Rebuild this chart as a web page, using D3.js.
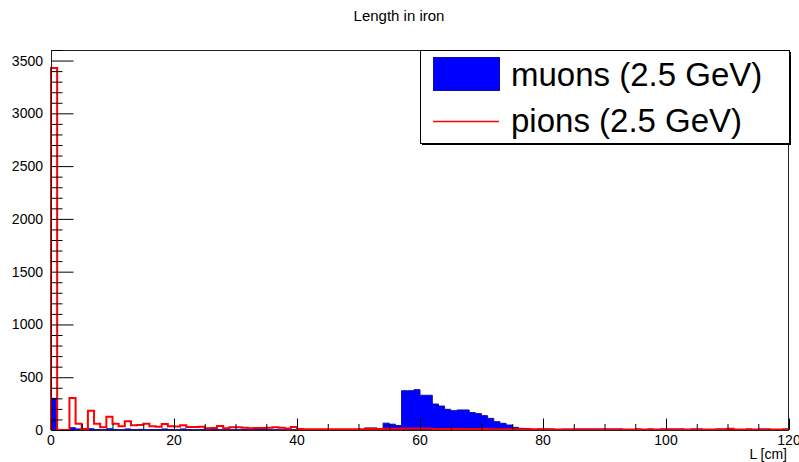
<!DOCTYPE html>
<html>
<head>
<meta charset="utf-8">
<script src="https://cdn.jsdelivr.net/npm/d3@7/dist/d3.min.js"></script>
<style>
  html, body { margin: 0; padding: 0; background: #fff; }
  svg { display: block; font-family: "Liberation Sans", Arial, Helvetica, sans-serif; }
</style>
</head>
<body>
<svg id="chart" width="799" height="462"></svg>
<script>
// ---- Data (1 cm bins, 0..120 cm) ----
const binEdges = d3.range(0, 121, 1);
const muons = [
  300, 5, 0, 22, 10, 5, 12, 5, 3, 12,
  5, 3, 10, 4, 6, 3, 5, 4, 10, 4,
  3, 10, 4, 3, 5, 3, 4, 3, 5, 3,
  3, 4, 3, 5, 5, 3, 3, 2, 3, 3,
  2, 3, 2, 3, 2, 3, 2, 2, 3, 2,
  3, 20, 20, 8, 65, 55, 42, 372, 372, 382,
  329, 329, 246, 227, 196, 183, 190, 190, 165, 155,
  136, 110, 79, 63, 47, 25, 16, 14, 3, 10,
  10, 10, 0, 8, 8, 10, 10, 10, 10, 10,
  10, 10, 10, 0, 0, 10, 0, 10, 0, 10,
  10, 10, 10, 0, 10, 10, 0, 0, 10, 10,
  10, 0, 0, 10, 0, 10, 10, 0, 0, 10
];
const pions = [
  3430, 0, 0, 303, 60, 10, 183, 60, 25, 126,
  60, 35, 82, 45, 47, 60, 35, 30, 58, 36,
  32, 45, 28, 28, 30, 16, 18, 38, 16, 25,
  25, 22, 16, 20, 18, 22, 25, 22, 14, 28,
  10, 8, 8, 8, 7, 8, 8, 7, 8, 8,
  8, 10, 10, 10, 12, 12, 12, 15, 15, 15,
  15, 15, 10, 10, 10, 10, 10, 10, 10, 10,
  10, 8, 8, 8, 8, 8, 8, 8, 8, 8,
  6, 5, 5, 5, 5, 5, 5, 5, 5, 5,
  4, 4, 4, 4, 4, 4, 4, 4, 4, 4,
  4, 4, 4, 4, 4, 4, 4, 4, 4, 4,
  12, 4, 4, 4, 4, 4, 4, 4, 4, 4
];
const xDomain = [0, 120];
const yDomain = [0, 3600];
const xMajorTicks = [0, 20, 40, 60, 80, 100, 120];
const xMinorTicks = d3.range(0, 121, 5);
const yMajorTicks = [0, 500, 1000, 1500, 2000, 2500, 3000, 3500];
const yMinorTicks = d3.range(0, 3601, 100);
const titleText = "Length in iron";
const xTitle = "L [cm]";
const legendLabels = ["muons (2.5 GeV)", "pions (2.5 GeV)"];

// ---- Layout ----
const svg = d3.select("#chart");
const L = 51, R = 789, T = 50, B = 430;
const x = d3.scaleLinear().domain(xDomain).range([L, R]);
const y = d3.scaleLinear().domain(yDomain).range([B, T]);

function stepPoints(vals) {
  const pts = [[binEdges[0], 0]];
  vals.forEach((v, i) => { pts.push([binEdges[i], v]); pts.push([binEdges[i + 1], v]); });
  pts.push([binEdges[binEdges.length - 1], 0]);
  return pts;
}

// title
svg.append("text").attr("x", 399).attr("y", 21).attr("text-anchor", "middle")
  .attr("font-size", 15).attr("fill", "#000").text(titleText);

// muons filled
const mPts = stepPoints(muons);
svg.append("path")
  .attr("d", d3.area().x(d => x(d[0])).y0(y(0)).y1(d => y(d[1]))(mPts))
  .attr("fill", "#0000ff").attr("stroke", "#1010a0").attr("stroke-width", 1);

// pions outline
const pPts = stepPoints(pions);
svg.append("path")
  .attr("d", d3.line().x(d => x(d[0])).y(d => y(d[1]))(pPts))
  .attr("fill", "none").attr("stroke", "#ff0000").attr("stroke-width", 2);

// frame
svg.append("rect").attr("x", L + 0.5).attr("y", T + 0.5).attr("width", R - L - 1).attr("height", B - T)
  .attr("fill", "none").attr("stroke", "#222").attr("stroke-width", 1);

// y axis (ticks inward)
const yAxis = d3.axisRight(y).tickValues(yMajorTicks).tickSize(22).tickFormat("");
const gy = svg.append("g").attr("transform", `translate(${L + 0.5},0)`).call(yAxis);
gy.select(".domain").remove();
gy.selectAll("line").attr("stroke", "#000");
const yAxisMinor = d3.axisRight(y).tickValues(yMinorTicks.filter(v => v % 500 !== 0)).tickSize(11).tickFormat("");
const gym = svg.append("g").attr("transform", `translate(${L + 0.5},0)`).call(yAxisMinor);
gym.select(".domain").remove();
gym.selectAll("line").attr("stroke", "#000");
svg.append("g").selectAll("text").data(yMajorTicks).join("text")
  .attr("x", 43).attr("y", d => y(d)).attr("dy", "0.36em").attr("text-anchor", "end")
  .attr("font-size", 14).attr("fill", "#000").text(d => d);

// x axis (ticks upward)
const xAxis = d3.axisTop(x).tickValues(xMajorTicks).tickSize(11).tickFormat("");
const gx = svg.append("g").attr("transform", `translate(0,${B - 0.5})`).call(xAxis);
gx.select(".domain").remove();
gx.selectAll("line").attr("stroke", "#000");
const xAxisMinor = d3.axisTop(x).tickValues(xMinorTicks.filter(v => v % 20 !== 0)).tickSize(5.5).tickFormat("");
const gxm = svg.append("g").attr("transform", `translate(0,${B - 0.5})`).call(xAxisMinor);
gxm.select(".domain").remove();
gxm.selectAll("line").attr("stroke", "#000");
svg.append("g").selectAll("text").data(xMajorTicks).join("text")
  .attr("x", d => x(d)).attr("y", 445).attr("text-anchor", "middle")
  .attr("font-size", 14).attr("fill", "#000").text(d => d);
svg.append("text").attr("x", 787).attr("y", 459).attr("text-anchor", "end")
  .attr("font-size", 14).attr("fill", "#000").text(xTitle);

// legend
const lg = svg.append("g");
lg.append("rect").attr("x", 420.5).attr("y", 50.5).attr("width", 369).attr("height", 93)
  .attr("fill", "#fff").attr("stroke", "#000").attr("stroke-width", 1);
lg.append("line").attr("x1", 790.5).attr("x2", 790.5).attr("y1", 52).attr("y2", 145).attr("stroke", "#000");
lg.append("line").attr("x1", 422).attr("x2", 791).attr("y1", 144.5).attr("y2", 144.5).attr("stroke", "#000");
lg.append("rect").attr("x", 433.5).attr("y", 57.5).attr("width", 66).attr("height", 33)
  .attr("fill", "#0000ff").attr("stroke", "#1010a0");
lg.append("line").attr("x1", 433).attr("x2", 499).attr("y1", 121.5).attr("y2", 121.5)
  .attr("stroke", "#ff0000").attr("stroke-width", 1.5);
lg.selectAll("text.lab").data(legendLabels).join("text").attr("class", "lab")
  .attr("x", 511).attr("y", (d, i) => 86 + i * 46)
  .attr("font-size", 33).attr("fill", "#000").text(d => d);
</script>
</body>
</html>
